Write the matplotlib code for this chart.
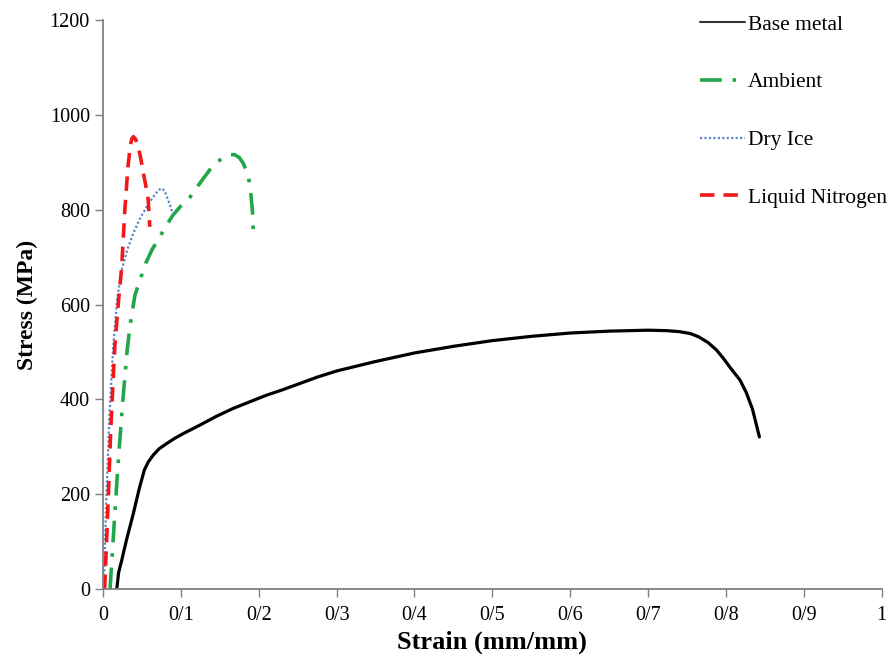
import matplotlib
matplotlib.use("Agg")
import matplotlib.pyplot as plt

plt.rcParams['font.family'] = ['Liberation Serif', 'DejaVu Serif']

# Data
base_strain = [0.0176, 0.020, 0.024, 0.030, 0.039, 0.0465, 0.053, 0.058, 0.0646, 0.072, 0.0817, 0.092, 0.103, 0.1245, 0.145, 0.167, 0.19, 0.21, 0.23, 0.25, 0.275, 0.3, 0.325, 0.35, 0.4, 0.45, 0.5, 0.55, 0.6, 0.65, 0.7, 0.724, 0.74, 0.754, 0.765, 0.777, 0.788, 0.797, 0.806, 0.818, 0.826, 0.834, 0.843]
base_stress = [0, 35, 61, 103, 160, 212, 251, 268, 283, 296, 307, 318, 328, 346, 364, 381, 396, 409, 420, 432, 447, 460, 470, 480, 498, 512, 524, 533, 540, 544, 546, 545, 543, 539, 532, 520, 504, 486, 466, 441, 415, 380, 321]

amb_strain = [0.009, 0.014, 0.019, 0.025, 0.031, 0.035, 0.041, 0.0475, 0.055, 0.063, 0.073, 0.081, 0.09, 0.1, 0.112, 0.124, 0.137, 0.146, 0.155, 0.163, 0.169, 0.175, 0.18, 0.185, 0.188, 0.190, 0.192, 0.193]
amb_stress = [0, 130, 257, 390, 504, 560, 620, 652, 688, 716, 743, 766, 789, 808, 827, 855, 884, 900, 910, 916, 916, 910, 898, 878, 858, 830, 795, 753]

dry_strain = [0.001, 0.004, 0.008, 0.013, 0.018, 0.024, 0.031, 0.039, 0.047, 0.056, 0.065, 0.071, 0.075, 0.079, 0.082, 0.086, 0.09]
dry_stress = [0, 180, 360, 510, 610, 673, 715, 751, 780, 806, 828, 841, 845, 840, 827, 810, 789]

ln_strain = [0.002, 0.006, 0.010, 0.015, 0.020, 0.024, 0.028, 0.032, 0.035, 0.037, 0.039, 0.042, 0.045, 0.048, 0.051, 0.055, 0.058, 0.060]
ln_stress = [0, 160, 340, 510, 610, 680, 800, 890, 935, 950, 954, 948, 933, 912, 884, 850, 821, 764]

xticks = [0, 0.1, 0.2, 0.3, 0.4, 0.5, 0.6, 0.7, 0.8, 0.9, 1.0]
xtick_labels = ['0', '0/1', '0/2', '0/3', '0/4', '0/5', '0/6', '0/7', '0/8', '0/9', '1']
yticks = [0, 200, 400, 600, 800, 1000, 1200]

fig = plt.figure(figsize=(8.96, 6.65), dpi=100)
ax = fig.add_axes([0.115, 0.114, 0.869, 0.856])

l1, = ax.plot(base_strain, base_stress, color='black', lw=2.3, label='Base metal',
              solid_capstyle='round', solid_joinstyle='round')
l2, = ax.plot(amb_strain, amb_stress, color='#21A64A', lw=2.6, ls=(0, (6, 3, 1, 3)), label='Ambient')
l3, = ax.plot(dry_strain, dry_stress, color='#5B86C5', lw=1.6, ls=(0, (1, 1)), label='Dry Ice')
l4, = ax.plot(ln_strain, ln_stress, color='#F01818', lw=2.6, ls=(0, (4, 2.5)), label='Liquid Nitrogen')

ax.set_xlim(0, 1)
ax.set_ylim(0, 1200)
ax.set_xticks(xticks)
ax.set_xticklabels(xtick_labels)
ax.set_yticks(yticks)
ax.tick_params(axis='both', direction='out', length=6, width=1, color='#7f7f7f', labelsize=14.5)
ax.tick_params(axis='x', pad=6)
for s in ['top', 'right']:
    ax.spines[s].set_visible(False)
for s in ['left', 'bottom']:
    ax.spines[s].set_color('#7f7f7f')
    ax.spines[s].set_linewidth(1.3)

ax.set_xlabel('Strain (mm/mm)', fontsize=19, fontweight='bold', labelpad=4)
ax.set_ylabel('Stress (MPa)', fontsize=17, fontweight='bold', labelpad=8)

leg = fig.legend(handles=[l1, l2, l3, l4], loc='upper left', bbox_to_anchor=(0.781, 0.978),
                 frameon=False, fontsize=15.5, labelspacing=1.75, handlelength=2.1,
                 handletextpad=0.15, borderaxespad=0, borderpad=0)
leg.get_lines()[0].set_linewidth(1.5)
leg.get_lines()[0].set_color('#333333')

fig.savefig('out.png', dpi=100)
